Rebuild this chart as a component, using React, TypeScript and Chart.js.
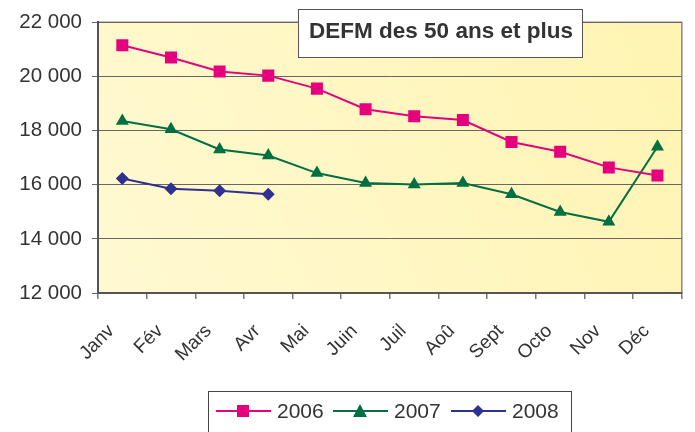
import React, { useEffect, useRef } from "react";
import { Chart, registerables } from "chart.js";

Chart.register(...registerables);

const months = ["Janv", "Fév", "Mars", "Avr", "Mai", "Juin", "Juil", "Aoû", "Sept", "Octo", "Nov", "Déc"];
const s2006 = [21150, 20700, 20180, 20030, 19550, 18790, 18530, 18390, 17580, 17220, 16640, 16340];
const s2007 = [18350, 18050, 17300, 17080, 16430, 16060, 16010, 16060, 15650, 14990, 14630, 17400];
const s2008 = [16230, 15850, 15780, 15650];
const yTicks = [12000, 14000, 16000, 18000, 20000, 22000];
const titleText = "DEFM des 50 ans et plus";
const seriesNames = ["2006", "2007", "2008"];
const seriesColors = ["#E5007D", "#006F42", "#2E3192"];
const seriesMarkers = ["rect", "triangle", "rectRot"];
const seriesRadius = [8.5, 7.5, 6.5];

const FONT = "'Liberation Sans', Arial, sans-serif";

const fmt = (v: number) => {
  const s = String(Math.round(v));
  return s.replace(/\B(?=(\d{3})+(?!\d))/g, " ");
};

const bgPlugin = {
  id: "bgPlugin",
  beforeDraw(chart: any) {
    const { ctx, chartArea: a } = chart;
    ctx.save();
    const g = ctx.createLinearGradient(a.left, a.bottom, a.right, a.top);
    g.addColorStop(0, "#FFF9D2");
    g.addColorStop(1, "#FFF4B2");
    ctx.fillStyle = g;
    ctx.fillRect(a.left, a.top, a.right - a.left, a.bottom - a.top);
    ctx.strokeStyle = "#8A8A8A";
    ctx.lineWidth = 1.5;
    ctx.beginPath();
    ctx.moveTo(a.left, a.top);
    ctx.lineTo(a.right, a.top);
    ctx.lineTo(a.right, a.bottom);
    ctx.stroke();
    ctx.restore();
  },
};

const overlayPlugin = {
  id: "overlayPlugin",
  afterDraw(chart: any) {
    const { ctx } = chart;
    ctx.save();
    // title box
    const tx = 298, ty = 9, tw = 284, th = 48;
    ctx.fillStyle = "#FFFFFF";
    ctx.fillRect(tx, ty, tw, th);
    ctx.strokeStyle = "#555555";
    ctx.lineWidth = 1;
    ctx.strokeRect(tx + 0.5, ty + 0.5, tw, th);
    ctx.fillStyle = "#333333";
    ctx.font = `bold 22.5px ${FONT}`;
    ctx.textAlign = "center";
    ctx.textBaseline = "middle";
    ctx.fillText(titleText, tx + tw / 2 + 1, ty + 23);

    // legend box
    const lx = 208, ly = 391, lw = 363, lh = 45;
    ctx.fillStyle = "#FFFFFF";
    ctx.fillRect(lx, ly, lw, lh);
    ctx.strokeStyle = "#444444";
    ctx.strokeRect(lx + 0.5, ly + 0.5, lw, lh);
    ctx.font = `21px ${FONT}`;
    ctx.textAlign = "left";
    const cy = 411;
    const starts = [216, 333, 451];
    seriesNames.forEach((name, i) => {
      const x0 = starts[i];
      ctx.strokeStyle = seriesColors[i];
      ctx.lineWidth = 2;
      ctx.beginPath();
      ctx.moveTo(x0, cy);
      ctx.lineTo(x0 + 55, cy);
      ctx.stroke();
      ctx.fillStyle = seriesColors[i];
      const mx = x0 + 27;
      ctx.beginPath();
      if (seriesMarkers[i] === "rect") {
        ctx.rect(mx - 6, cy - 6, 12, 12);
      } else if (seriesMarkers[i] === "triangle") {
        ctx.moveTo(mx, cy - 7);
        ctx.lineTo(mx + 7, cy + 6);
        ctx.lineTo(mx - 7, cy + 6);
        ctx.closePath();
      } else {
        ctx.moveTo(mx, cy - 6);
        ctx.lineTo(mx + 6, cy);
        ctx.lineTo(mx, cy + 6);
        ctx.lineTo(mx - 6, cy);
        ctx.closePath();
      }
      ctx.fill();
      ctx.fillStyle = "#333333";
      ctx.fillText(name, x0 + 61, cy + 1);
    });
    ctx.restore();
  },
};

export default function App() {
  const ref = useRef<HTMLCanvasElement | null>(null);
  useEffect(() => {
    document.body.style.margin = "0";
    const canvas = ref.current!;
    const chart = new Chart(canvas, {
      type: "line",
      data: {
        labels: months,
        datasets: [s2006, s2007, s2008].map((d, i) => ({
          label: seriesNames[i],
          data: d,
          borderColor: seriesColors[i],
          backgroundColor: seriesColors[i],
          borderWidth: 2,
          pointStyle: seriesMarkers[i] as any,
          pointRadius: seriesRadius[i],
          pointBorderWidth: 0,
          tension: 0,
          fill: false,
        })),
      },
      options: {
        animation: false,
        responsive: false,
        layout: { padding: { top: 17, right: 10, left: 0, bottom: 0 } },
        plugins: {
          legend: { display: false },
          tooltip: { enabled: false },
          title: { display: false },
        },
        scales: {
          x: {
            offset: true,
            grid: {
              offset: true,
              drawOnChartArea: false,
              drawTicks: true,
              tickLength: 6,
              color: "#777777",
              lineWidth: 1.5,
            },
            border: { color: "#555555", width: 2 },
            ticks: {
              font: { family: FONT, size: 19 },
              color: "#333333",
              minRotation: 45,
              maxRotation: 45,
              autoSkip: false,
              padding: 21,
              labelOffset: -11,
            },
            afterFit(scale: any) {
              scale.height = 432 - 293;
            },
          },
          y: {
            min: 12000,
            max: 22000,
            afterBuildTicks(scale: any) {
              scale.ticks = yTicks.map((v) => ({ value: v }));
            },
            grid: {
              color: "#666666",
              lineWidth: 1,
              tickLength: 6,
            },
            border: { color: "#555555", width: 2 },
            ticks: {
              font: { family: FONT, size: 20.5 },
              color: "#333333",
              padding: 10,
              callback: (v: any) => fmt(Number(v)),
            },
            afterFit(scale: any) {
              scale.width = 98;
            },
          },
        },
      },
      plugins: [bgPlugin, overlayPlugin],
    });
    return () => chart.destroy();
  }, []);
  return (
    <div style={{ position: "absolute", left: 0, top: 0, width: 695, height: 432 }}>
      <canvas ref={ref} width={695} height={432} style={{ width: 695, height: 432 }} />
    </div>
  );
}
